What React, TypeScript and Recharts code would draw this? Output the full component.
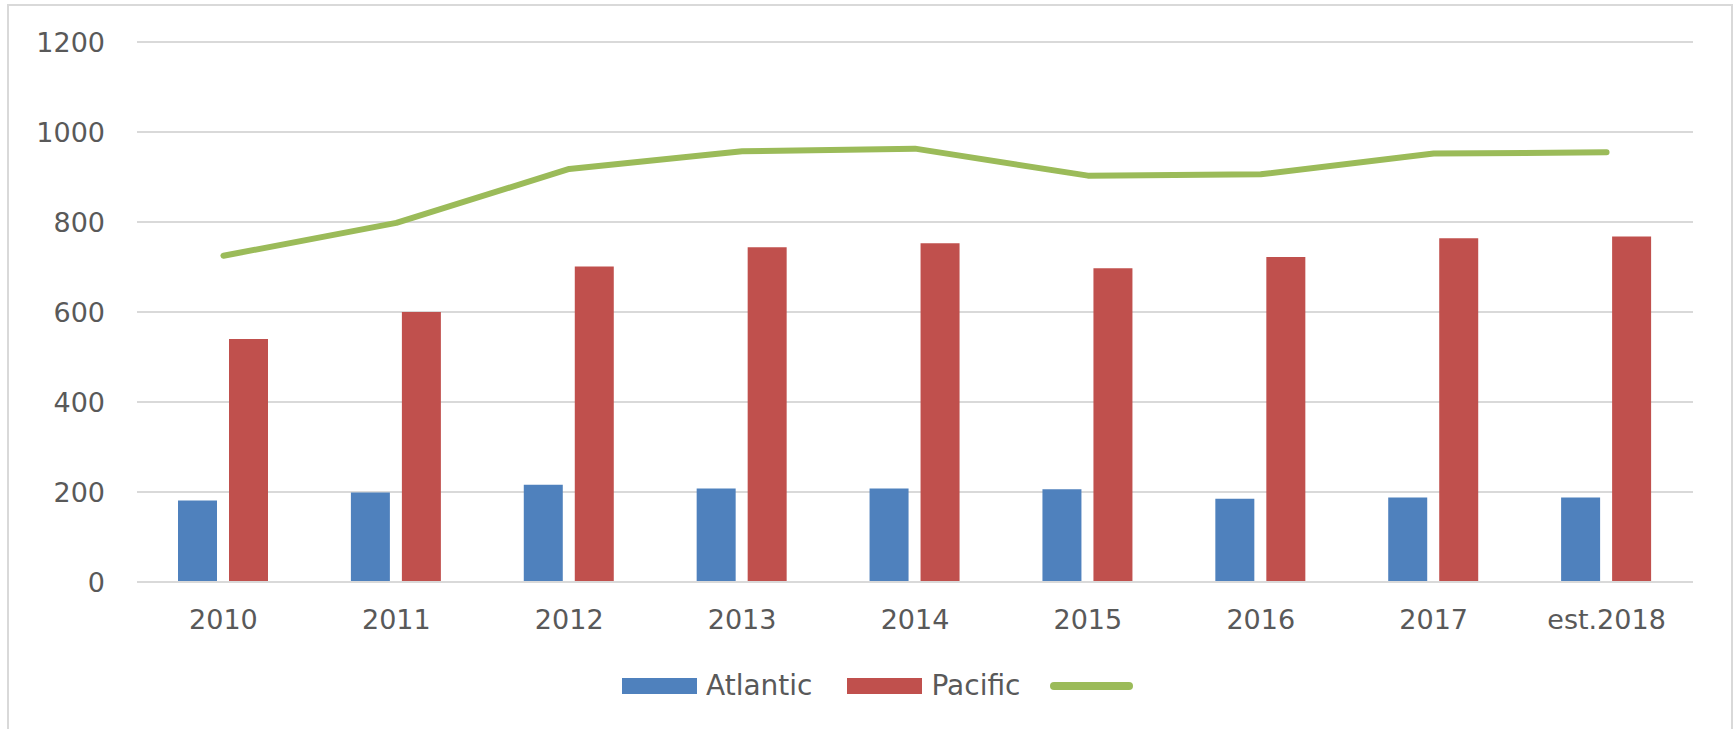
import React from 'react';
import { ComposedChart, Bar, Line, XAxis, YAxis, CartesianGrid, Legend } from 'recharts';

const categories = ['2010', '2011', '2012', '2013', '2014', '2015', '2016', '2017', 'est.2018'];
const atlantic = [181, 199, 216, 208, 208, 206, 185, 188, 188];
const pacific = [540, 600, 701, 744, 753, 697, 722, 764, 768];
const total = [725, 798, 918, 957, 963, 903, 906, 952, 955];
const yTicks = [0, 200, 400, 600, 800, 1000, 1200];

const data = categories.map((c, i) => ({
  year: c,
  Atlantic: atlantic[i],
  Pacific: pacific[i],
  Total: total[i],
}));

const FONT = "'DejaVu Sans', sans-serif";
const TEXT = '#595959';
const GRID = '#D9D9D9';

const order = ['Atlantic', 'Pacific', 'Total'];

const renderLegend = (props: any) => {
  const payload = [...(props.payload || [])].sort(
    (a: any, b: any) => order.indexOf(a.dataKey) - order.indexOf(b.dataKey)
  );
  return (
    <div style={{ display: 'flex', alignItems: 'center', fontFamily: FONT, fontSize: 28, color: TEXT, height: 36 }}>
      {payload.map((entry: any) => {
        if (entry.type === 'line') {
          return (
            <svg key={entry.dataKey} width={84} height={10} style={{ marginLeft: -5, display: 'block' }}>
              <line x1={4} y1={5} x2={79} y2={5} stroke={entry.color} strokeWidth={8} strokeLinecap="round" />
            </svg>
          );
        }
        return (
          <div key={entry.dataKey} style={{ display: 'flex', alignItems: 'center', marginRight: 35 }}>
            <div style={{ width: 75, height: 16, background: entry.color, marginRight: 9 }} />
            <span style={{ lineHeight: '36px', whiteSpace: 'nowrap' }}>{entry.value}</span>
          </div>
        );
      })}
    </div>
  );
};

export default function App() {
  return (
    <div style={{ position: 'fixed', left: 0, top: 0, width: 1735, height: 729, overflow: 'hidden', background: '#fff' }}>
      <div
        style={{
          position: 'absolute',
          left: 7,
          top: 4,
          width: 1726,
          height: 760,
          border: '2px solid #D9D9D9',
          boxSizing: 'border-box',
        }}
      />
      <div style={{ position: 'absolute', left: 0, top: 0 }}>
        <ComposedChart
          width={1735}
          height={729}
          data={data}
          margin={{ top: 42, right: 42, bottom: 117, left: 0 }}
          barGap={12}
        >
          <CartesianGrid vertical={false} stroke={GRID} strokeWidth={2} />
          <XAxis
            dataKey="year"
            height={30}
            axisLine={{ stroke: GRID, strokeWidth: 2 }}
            tickLine={false}
            tickSize={0}
            tickMargin={28}
            tick={{ fill: TEXT, fontSize: 27, fontFamily: FONT }}
            interval={0}
          />
          <YAxis
            width={137}
            domain={[0, 1200]}
            ticks={yTicks}
            axisLine={false}
            tickLine={false}
            tickSize={0}
            tickMargin={32}
            tick={{ fill: TEXT, fontSize: 27, fontFamily: FONT }}
          />
          <Bar dataKey="Atlantic" name="Atlantic" fill="#4F81BD" barSize={39} isAnimationActive={false} />
          <Bar dataKey="Pacific" name="Pacific" fill="#C0504D" barSize={39} isAnimationActive={false} />
          <Line
            dataKey="Total"
            name=""
            type="linear"
            stroke="#9BBB59"
            strokeWidth={6}
            strokeLinecap="round"
            strokeLinejoin="round"
            dot={false}
            activeDot={false}
            legendType="line"
            isAnimationActive={false}
          />
          <Legend
            layout="horizontal"
            align="center"
            verticalAlign="middle"
            content={renderLegend}
            wrapperStyle={{ position: 'absolute', left: 622, top: 668, width: 560, height: 36 }}
          />
        </ComposedChart>
      </div>
    </div>
  );
}
